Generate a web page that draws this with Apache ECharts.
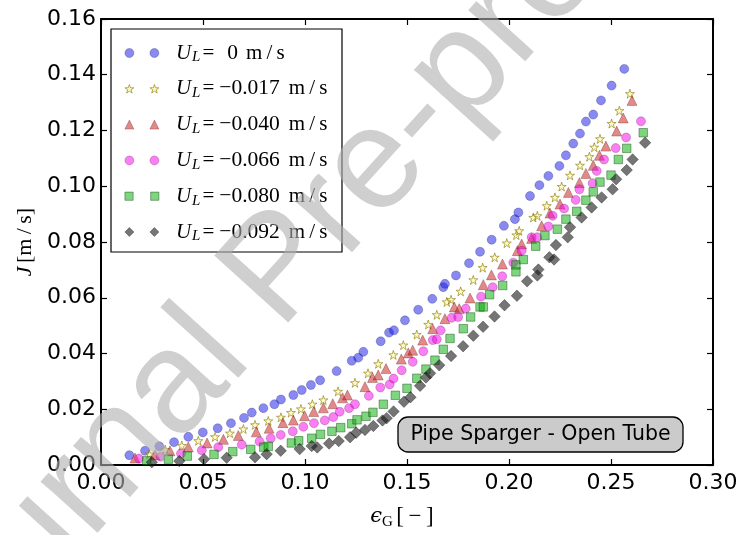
<!DOCTYPE html>
<html><head><meta charset="utf-8">
<script src="https://cdn.jsdelivr.net/npm/echarts@6/dist/echarts.min.js"></script>
<style>html,body{margin:0;padding:0;background:#fff}#c{width:742px;height:535px}</style>
</head><body><div id="c"></div><script>
// ---- data (epsilon_G, J) ----
const xTicks = [0, 0.05, 0.10, 0.15, 0.20, 0.25, 0.30];
const yTicks = [0, 0.02, 0.04, 0.06, 0.08, 0.10, 0.12, 0.14, 0.16];
const seriesLabels = ['0', '\u22120.017', '\u22120.040', '\u22120.066', '\u22120.080', '\u22120.092'];

const dataU0 = [[0.0139,0.0035],[0.0216,0.0051],[0.0286,0.0067],[0.0358,0.0082],[0.0428,0.0101],[0.0499,0.0117],[0.0572,0.0132],[0.0637,0.0150],[0.0701,0.0169],[0.0739,0.0188],[0.0796,0.0204],[0.0850,0.0218],[0.0882,0.0235],[0.0943,0.0251],[0.0984,0.0269],[0.1029,0.0287],[0.1074,0.0304],[0.1155,0.0337],[0.1229,0.0374],[0.1261,0.0385],[0.1286,0.0406],[0.1371,0.0444],[0.1412,0.0475],[0.1436,0.0483],[0.1490,0.0519],[0.1555,0.0557],[0.1624,0.0596],[0.1678,0.0638],[0.1686,0.0650],[0.1740,0.0680],[0.1804,0.0724],[0.1858,0.0765],[0.1915,0.0808],[0.1975,0.0858],[0.2029,0.0882],[0.2046,0.0906],[0.2103,0.0965],[0.2149,0.1004],[0.2193,0.1037],[0.2247,0.1073],[0.2279,0.1111],[0.2315,0.1153],[0.2348,0.1189],[0.2377,0.1232],[0.2413,0.1257],[0.2451,0.1308],[0.2503,0.1361],[0.2565,0.1421]];

const dataU017 = [[0.0237,0.0039],[0.0315,0.0055],[0.0396,0.0070],[0.0477,0.0087],[0.0559,0.0101],[0.0632,0.0114],[0.0698,0.0129],[0.0755,0.0144],[0.0820,0.0158],[0.0882,0.0171],[0.0931,0.0188],[0.0980,0.0201],[0.1036,0.0218],[0.1090,0.0233],[0.1162,0.0264],[0.1245,0.0295],[0.1309,0.0329],[0.1359,0.0363],[0.1433,0.0395],[0.1482,0.0430],[0.1548,0.0468],[0.1604,0.0504],[0.1646,0.0539],[0.1695,0.0585],[0.1716,0.0593],[0.1763,0.0623],[0.1825,0.0664],[0.1871,0.0708],[0.1930,0.0745],[0.1989,0.0796],[0.2036,0.0825],[0.2050,0.0840],[0.2119,0.0888],[0.2139,0.0894],[0.2185,0.0930],[0.2225,0.0960],[0.2258,0.0999],[0.2299,0.1039],[0.2348,0.1075],[0.2394,0.1106],[0.2418,0.1140],[0.2446,0.1170],[0.2503,0.1225],[0.2541,0.1271],[0.2593,0.1332]];

const dataU040 = [[0.0167,0.0025],[0.0265,0.0036],[0.0338,0.0051],[0.0428,0.0065],[0.0520,0.0079],[0.0600,0.0092],[0.0673,0.0106],[0.0761,0.0119],[0.0824,0.0132],[0.0892,0.0152],[0.0943,0.0161],[0.0998,0.0177],[0.1043,0.0192],[0.1090,0.0205],[0.1136,0.0220],[0.1184,0.0241],[0.1208,0.0251],[0.1294,0.0281],[0.1331,0.0314],[0.1359,0.0323],[0.1397,0.0346],[0.1472,0.0380],[0.1506,0.0402],[0.1528,0.0412],[0.1577,0.0448],[0.1626,0.0489],[0.1686,0.0525],[0.1732,0.0567],[0.1756,0.0561],[0.1809,0.0599],[0.1874,0.0647],[0.1914,0.0682],[0.1968,0.0721],[0.2041,0.0769],[0.2062,0.0793],[0.2111,0.0813],[0.2160,0.0858],[0.2201,0.0904],[0.2250,0.0936],[0.2291,0.0978],[0.2345,0.1013],[0.2377,0.1046],[0.2413,0.1075],[0.2443,0.1111],[0.2475,0.1144],[0.2528,0.1198],[0.2560,0.1245],[0.2603,0.1308]];

const dataU066 = [[0.0186,0.0023],[0.0292,0.0030],[0.0392,0.0041],[0.0494,0.0053],[0.0575,0.0064],[0.0690,0.0073],[0.0777,0.0084],[0.0832,0.0096],[0.0881,0.0108],[0.0940,0.0121],[0.0992,0.0137],[0.1044,0.0150],[0.1097,0.0160],[0.1139,0.0172],[0.1170,0.0191],[0.1216,0.0204],[0.1245,0.0218],[0.1313,0.0248],[0.1369,0.0278],[0.1415,0.0289],[0.1434,0.0310],[0.1474,0.0340],[0.1528,0.0370],[0.1580,0.0408],[0.1626,0.0448],[0.1646,0.0451],[0.1665,0.0483],[0.1719,0.0528],[0.1751,0.0531],[0.1788,0.0561],[0.1863,0.0604],[0.1920,0.0638],[0.1967,0.0677],[0.2021,0.0726],[0.2062,0.0769],[0.2111,0.0817],[0.2139,0.0817],[0.2193,0.0856],[0.2214,0.0894],[0.2270,0.0920],[0.2327,0.0951],[0.2345,0.0989],[0.2410,0.1011],[0.2430,0.1055],[0.2466,0.1096],[0.2523,0.1137],[0.2574,0.1175],[0.2647,0.1233]];

const dataU080 = [[0.0224,0.0015],[0.0330,0.0021],[0.0423,0.0032],[0.0554,0.0038],[0.0646,0.0048],[0.0734,0.0056],[0.0798,0.0064],[0.0820,0.0067],[0.0933,0.0079],[0.0969,0.0087],[0.1033,0.0096],[0.1076,0.0110],[0.1132,0.0121],[0.1175,0.0134],[0.1229,0.0148],[0.1255,0.0162],[0.1299,0.0175],[0.1333,0.0189],[0.1384,0.0218],[0.1443,0.0250],[0.1500,0.0275],[0.1548,0.0311],[0.1593,0.0344],[0.1637,0.0376],[0.1678,0.0415],[0.1711,0.0454],[0.1776,0.0489],[0.1812,0.0531],[0.1858,0.0567],[0.1874,0.0567],[0.1905,0.0611],[0.1969,0.0644],[0.2034,0.0693],[0.2034,0.0718],[0.2070,0.0737],[0.2131,0.0785],[0.2176,0.0823],[0.2237,0.0846],[0.2279,0.0882],[0.2332,0.0910],[0.2377,0.0950],[0.2413,0.0980],[0.2446,0.1015],[0.2500,0.1040],[0.2536,0.1096],[0.2577,0.1136],[0.2658,0.1192]];

const dataU092 = [[0.0249,0.0010],[0.0384,0.0014],[0.0505,0.0021],[0.0616,0.0026],[0.0755,0.0028],[0.0812,0.0039],[0.0881,0.0051],[0.0974,0.0057],[0.1033,0.0068],[0.1060,0.0063],[0.1118,0.0077],[0.1165,0.0086],[0.1221,0.0100],[0.1251,0.0116],[0.1294,0.0126],[0.1335,0.0140],[0.1380,0.0160],[0.1400,0.0168],[0.1434,0.0192],[0.1485,0.0227],[0.1517,0.0243],[0.1564,0.0284],[0.1593,0.0314],[0.1613,0.0329],[0.1658,0.0358],[0.1716,0.0391],[0.1775,0.0426],[0.1825,0.0464],[0.1873,0.0496],[0.1929,0.0533],[0.1978,0.0573],[0.2039,0.0607],[0.2089,0.0659],[0.2139,0.0680],[0.2144,0.0701],[0.2198,0.0745],[0.2221,0.0737],[0.2230,0.0789],[0.2288,0.0817],[0.2299,0.0853],[0.2356,0.0888],[0.2405,0.0924],[0.2454,0.0960],[0.2508,0.0989],[0.2525,0.1025],[0.2577,0.1058],[0.2606,0.1096],[0.2667,0.1156]];

// ---- shapes ----
function starPts(cx, cy, R) {
  const pts = [];
  for (let i = 0; i < 10; i++) {
    const r = i % 2 === 0 ? R : R * 0.382;
    const a = i * Math.PI / 5;
    pts.push([cx + r * Math.sin(a), cy - r * Math.cos(a)]);
  }
  return 'M' + pts.map(p => p[0].toFixed(2) + ',' + p[1].toFixed(2)).join(' L') + ' Z';
}
const STAR = 'path://' + starPts(10, 10, 10);
function twice(fn) { return 'path://' + fn(0) + ' ' + fn(25); }
const iconCircle = twice(o => `M${o},4.5 A4.5,4.5 0 1,1 ${o + 9},4.5 A4.5,4.5 0 1,1 ${o},4.5 Z`);
const iconStar = 'path://' + starPts(4.5, 4.7, 4.7) + ' ' + starPts(29.5, 4.7, 4.7);
const iconTri = twice(o => `M${o + 4.5},0 L${o + 9},9 L${o},9 Z`);
const iconRect = twice(o => `M${o + 0.5},0.5 L${o + 8.5},0.5 L${o + 8.5},8.5 L${o + 0.5},8.5 Z`);
const iconDia = twice(o => `M${o + 4.5},0 L${o + 9},4.5 L${o + 4.5},9 L${o},4.5 Z`);

const SERIF = '"Liberation Serif", "DejaVu Serif", serif';
const SANS = '"DejaVu Sans", sans-serif';

const specs = [
  { data: dataU0,   symbol: 'circle',   size: 9,   icon: iconCircle, color: 'rgba(20,20,230,0.5)',   border: 'rgba(0,0,80,0.3)' },
  { data: dataU017, symbol: STAR,       size: 9,   icon: iconStar,   color: 'rgba(255,240,90,0.3)',  border: 'rgba(140,125,0,0.8)' },
  { data: dataU040, symbol: 'triangle', size: 10,  icon: iconTri,    color: 'rgba(200,20,20,0.5)',   border: 'rgba(80,0,0,0.35)' },
  { data: dataU066, symbol: 'circle',   size: 9,   icon: iconCircle, color: 'rgba(245,0,230,0.5)',   border: 'rgba(80,0,80,0.3)' },
  { data: dataU080, symbol: 'rect',     size: 8.5, icon: iconRect,   color: 'rgba(0,170,0,0.5)',     border: 'rgba(0,60,0,0.5)' },
  { data: dataU092, symbol: 'diamond',  size: 11.5, icon: iconDia,   color: 'rgba(25,25,25,0.6)',    border: 'rgba(0,0,0,0.4)' }
];

const names = seriesLabels.map(v => 'U_L = ' + v + ' m/s');

const series = specs.map((s, i) => ({
  name: names[i],
  type: 'scatter',
  xAxisIndex: 0, yAxisIndex: 0,
  data: s.data,
  symbol: s.symbol,
  symbolSize: s.size,
  itemStyle: { color: s.color, borderColor: s.border, borderWidth: 0.8, opacity: 1 },
  emphasis: { disabled: true },
  z: 2 + i * 0.01
}));

const axisCommon = {
  type: 'value',
  axisLine: { show: true, onZero: false, lineStyle: { color: '#000', width: 2 } },
  axisTick: { show: true, inside: true, length: 6, lineStyle: { color: '#000', width: 1.2 } },
  splitLine: { show: false },
  axisLabel: { show: false }
};
const labelStyle = { show: true, color: '#000', fontFamily: SANS, fontSize: 22 };

// watermark geometry
const WM_ANGLE = 47.8;
const WM_SIZE = 145;

const chart = echarts.init(document.getElementById('c'), null, { renderer: 'canvas' });
chart.setOption({
  backgroundColor: '#fff',
  animation: false,
  grid: { left: 101, top: 19, right: 29, bottom: 68, containLabel: false },
  xAxis: [
    Object.assign({}, axisCommon, {
      position: 'bottom', min: xTicks[0], max: xTicks[xTicks.length - 1], interval: 0.05,
      axisLabel: Object.assign({}, labelStyle, { margin: 7, formatter: v => v.toFixed(2) }),
      name: '{e|\u03f5}{g|G} {b|[\u2009\u2212\u2009]}', nameLocation: 'middle', nameGap: 39,
      nameTextStyle: { rich: {
        e: { fontFamily: '"DejaVu Serif", serif', fontStyle: 'italic', fontSize: 21, color: '#000', lineHeight: 26 },
        g: { fontFamily: SERIF, fontSize: 15, color: '#000', verticalAlign: 'bottom', lineHeight: 20 },
        b: { fontFamily: SERIF, fontSize: 23, color: '#000', lineHeight: 26, padding: [0, 10, 0, 0] } } }
    }),
    Object.assign({}, axisCommon, { position: 'top', min: xTicks[0], max: xTicks[xTicks.length - 1], interval: 0.05 })
  ],
  yAxis: [
    Object.assign({}, axisCommon, {
      position: 'left', min: yTicks[0], max: yTicks[yTicks.length - 1], interval: 0.02,
      axisLabel: Object.assign({}, labelStyle, { margin: 5, formatter: v => v.toFixed(2) }),
      name: '{j|J} {b|[m\u2009/\u2009s]}', nameLocation: 'middle', nameGap: 54, nameRotate: 90,
      nameTextStyle: { rich: {
        j: { fontFamily: SERIF, fontStyle: 'italic', fontSize: 22, color: '#000' },
        b: { fontFamily: SERIF, fontSize: 22, color: '#000' } } }
    }),
    Object.assign({}, axisCommon, { position: 'right', min: yTicks[0], max: yTicks[yTicks.length - 1], interval: 0.02 })
  ],
  legend: {
    orient: 'vertical', left: 124.5, top: 42, z: 5,
    padding: 0,
    itemGap: 12.8, itemWidth: 34, itemHeight: 9,
    backgroundColor: 'transparent', borderWidth: 0,
    selectedMode: false,
    data: names.map((n, i) => ({ name: n, icon: specs[i].icon,
      itemStyle: { color: specs[i].color, borderColor: specs[i].border, borderWidth: 0.8 } })),
    formatter: name => {
      const i = names.indexOf(name);
      const v = seriesLabels[i];
      return '{u|U}{s|L}' + (i === 0 ? '{e0|=}' : '{e|=}') + '{v|' + v + '}' + (i === 0 ? '{m0|m\u2009/\u2009s}' : '{m|m\u2009/\u2009s}');
    },
    textStyle: {
      color: '#000',
      rich: {
        u: { fontFamily: SERIF, fontStyle: 'italic', fontSize: 21, lineHeight: 24, padding: [0, 0, 0, 12] },
        s: { fontFamily: SERIF, fontStyle: 'italic', fontSize: 15, lineHeight: 20, verticalAlign: 'bottom', padding: [0, 2, 0, 1] },
        e: { fontFamily: SERIF, fontSize: 21, lineHeight: 24, padding: [0, 5, 0, 0] },
        e0: { fontFamily: SERIF, fontSize: 21, lineHeight: 24, padding: [0, 13, 0, 0] },
        v: { fontFamily: SERIF, fontSize: 21.5, lineHeight: 24 },
        m: { fontFamily: SERIF, fontSize: 21, lineHeight: 24, padding: [0, 0, 0, 9] },
        m0: { fontFamily: SERIF, fontSize: 21, lineHeight: 24, padding: [0, 0, 0, 8] }
      }
    }
  },
  graphic: [
    { type: 'rect', shape: { x: 111, y: 29, width: 231, height: 223 },
      style: { fill: '#fff', stroke: '#000', lineWidth: 1.2 }, z: 3 },
    { type: 'rect', shape: { x: 398, y: 417, width: 285, height: 35, r: 10 },
      style: { fill: '#cbcbcb', stroke: '#000', lineWidth: 1.3 }, z: 10 },
    { type: 'text', x: 540.5, y: 435, z: 11,
      style: { text: 'Pipe Sparger - Open Tube', fill: '#000', font: '20.5px "DejaVu Sans"', align: 'center', verticalAlign: 'middle' } },
    { type: 'text', x: -95.8, y: 686.6, rotation: WM_ANGLE * Math.PI / 180, z: 100,
      style: { text: 'Journal Pre-proof', fill: 'rgba(175,175,175,0.6)', font: WM_SIZE + 'px "Liberation Sans"', align: 'left', verticalAlign: 'middle' } }
  ],
  series: series
});
</script></body></html>
